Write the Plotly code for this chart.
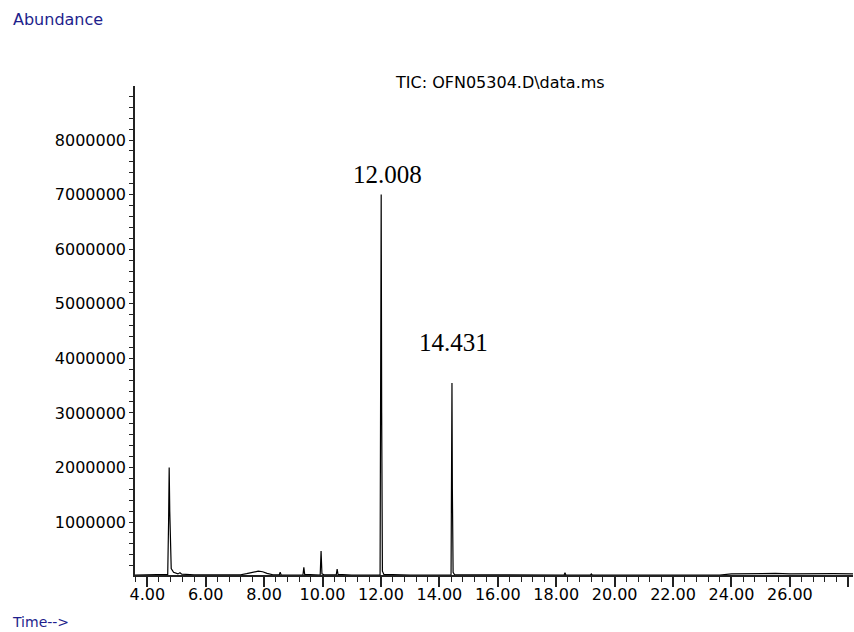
import plotly.graph_objects as go

# ---- data (time in min, abundance) ----
time_min = [3.58, 4.60, 4.70, 4.73, 4.75, 4.77, 4.79, 4.82, 4.90, 5.05, 5.12, 5.18, 5.60,
            6.50, 7.20, 7.40, 7.60, 7.80, 7.95, 8.10, 8.30, 8.52, 8.55, 8.58, 9.00,
            9.33, 9.36, 9.39, 9.92, 9.95, 9.98, 10.05, 10.47, 10.50, 10.53, 11.00,
            11.97, 11.99, 12.008, 12.025, 12.05, 12.10, 13.00,
            14.40, 14.415, 14.431, 14.445, 14.47, 14.52, 16.00,
            18.27, 18.30, 18.33, 19.17, 19.20, 19.23, 21.00, 23.60,
            24.00, 24.50, 25.00, 25.50, 26.00, 26.50, 27.00, 27.50, 28.16]
abundance = [30000, 30000, 40000, 1000000, 2000000, 1200000, 400000, 150000, 80000, 50000,
             70000, 45000, 35000,
             30000, 35000, 55000, 80000, 100000, 90000, 60000, 35000, 35000, 80000, 35000, 30000,
             30000, 170000, 40000, 30000, 470000, 50000, 35000, 35000, 140000, 40000, 30000,
             30000, 3000000, 7000000, 3000000, 100000, 40000, 30000,
             30000, 1600000, 3550000, 1600000, 80000, 35000, 30000,
             30000, 70000, 30000, 30000, 50000, 30000, 30000, 30000,
             50000, 55000, 50000, 58000, 52000, 56000, 50000, 57000, 52000]

peak_times = [12.008, 14.431]
peak_heights = [7000000, 3550000]
peak_labels = ["12.008", "14.431"]

x_tick_vals = [4, 6, 8, 10, 12, 14, 16, 18, 20, 22, 24, 26, 28]
x_tick_text = ["4.00", "6.00", "8.00", "10.00", "12.00", "14.00", "16.00", "18.00",
               "20.00", "22.00", "24.00", "26.00", ""]
y_tick_vals = [1000000, 2000000, 3000000, 4000000, 5000000, 6000000, 7000000, 8000000]
y_tick_text = ["1000000", "2000000", "3000000", "4000000", "5000000", "6000000",
               "7000000", "8000000"]

title_text = "TIC: OFN05304.D\\data.ms"

SANS = "DejaVu Sans"
NAVY = "#1e1e8c"

fig = go.Figure()
fig.add_trace(go.Scatter(x=time_min, y=abundance, mode="lines",
                         line=dict(color="#000000", width=1.2), hoverinfo="skip"))

# peak labels
label_shifts = [(6, 20), (2, 40)]
for t, h, lab, (dx, dy) in zip(peak_times, peak_heights, peak_labels, label_shifts):
    fig.add_annotation(x=t, y=h, text=lab, showarrow=False, xanchor="center",
                       yanchor="middle", xshift=dx, yshift=dy,
                       font=dict(family="Liberation Serif", size=25, color="#000000"))

# title and axis captions
fig.add_annotation(xref="paper", yref="paper", x=(500 - 135) / 718, y=1, yshift=4,
                   text=title_text, showarrow=False, xanchor="center", yanchor="middle",
                   font=dict(family=SANS, size=16, color="#000000"))
fig.add_annotation(xref="paper", yref="paper", x=(11 - 135) / 718, y=1, yshift=67,
                   text="Abundance", showarrow=False, xanchor="left", yanchor="middle",
                   font=dict(family=SANS, size=16, color=NAVY))
fig.add_annotation(xref="paper", yref="paper", x=(10 - 135) / 718, y=0, yshift=-47,
                   text="Time-->", showarrow=False, xanchor="left", yanchor="middle",
                   font=dict(family=SANS, size=14, color=NAVY))

fig.update_xaxes(range=[3.58, 28.16], showgrid=False, zeroline=False,
                 showline=True, linecolor="#222222", linewidth=1.5,
                 tickmode="array", tickvals=x_tick_vals, ticktext=x_tick_text,
                 ticks="outside", ticklen=10, tickwidth=1.5, tickcolor="#222222",
                 ticklabelstandoff=-6,
                 tickfont=dict(family=SANS, size=16, color="#000000"),
                 minor=dict(ticks="outside", ticklen=5, tickwidth=1, tickcolor="#222222",
                            tick0=4, dtick=0.4, showgrid=False))
fig.update_yaxes(range=[30000, 8990000], showgrid=False, zeroline=False,
                 showline=True, linecolor="#222222", linewidth=1.5,
                 tickmode="array", tickvals=y_tick_vals, ticktext=y_tick_text,
                 ticks="outside", ticklen=4, tickwidth=1, tickcolor="#222222",
                 tickfont=dict(family=SANS, size=16, color="#000000"),
                 minor=dict(ticks="outside", ticklen=4, tickwidth=1, tickcolor="#222222",
                            tick0=0, dtick=200000, showgrid=False))

fig.update_layout(width=854, height=632, margin=dict(l=135, r=1, t=86, b=57),
                  plot_bgcolor="#ffffff", paper_bgcolor="#ffffff", showlegend=False)

fig.write_html("out.html")
